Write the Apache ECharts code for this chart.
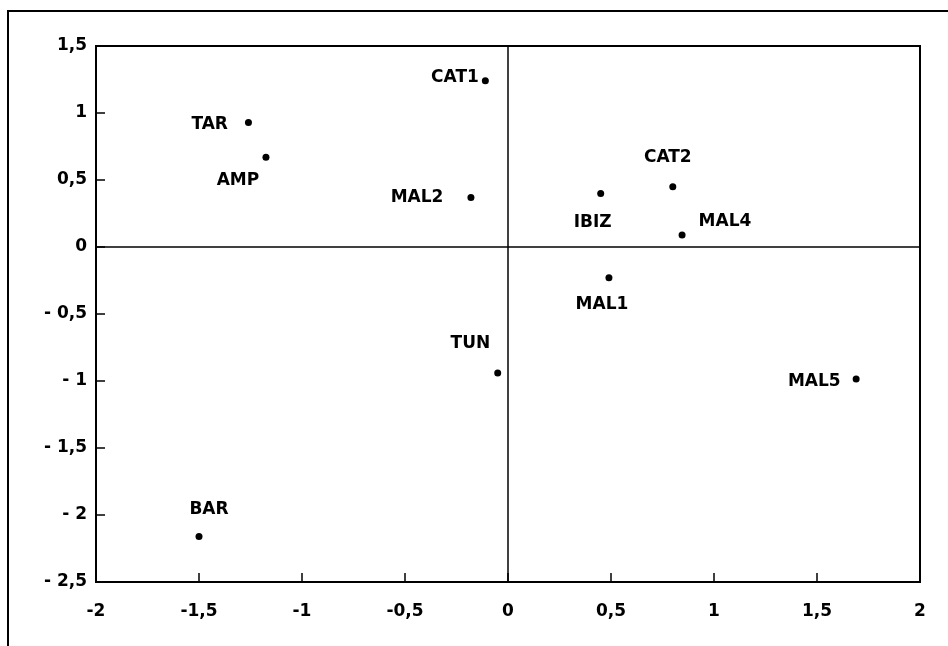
<!DOCTYPE html>
<html>
<head>
<meta charset="utf-8">
<script src="https://cdn.jsdelivr.net/npm/echarts@6/dist/echarts.min.js"></script>
<style>
  html, body { margin: 0; padding: 0; background: #fff; }
  #main { width: 948px; height: 646px; }
</style>
</head>
<body>
<div id="main"></div>
<script>
// sites and their coordinates on the two axes
var names = ['CAT1', 'TAR', 'AMP', 'MAL2', 'IBIZ', 'CAT2', 'MAL4', 'MAL1', 'TUN', 'MAL5', 'BAR'];
var xs = [-0.11, -1.26, -1.175, -0.18, 0.45, 0.80, 0.845, 0.49, -0.05, 1.69, -1.50];
var ys = [1.24, 0.93, 0.67, 0.37, 0.40, 0.45, 0.09, -0.23, -0.94, -0.985, -2.16];

// where each label sits relative to its dot
var labelPlace = {
  CAT1: { position: 'left', offset: [2, -3] },
  TAR: { position: 'left', offset: [-12, 2] },
  AMP: { position: 'inside', offset: [-28, 23] },
  MAL2: { position: 'left', offset: [-19, 0] },
  IBIZ: { position: 'inside', offset: [-8, 29] },
  CAT2: { position: 'inside', offset: [-5, -29] },
  MAL4: { position: 'right', offset: [8, -13] },
  MAL1: { position: 'inside', offset: [-7, 27] },
  TUN: { position: 'left', offset: [1, -29] },
  MAL5: { position: 'left', offset: [-7, 3] },
  BAR: { position: 'inside', offset: [10, -27] }
};

function fmt(v, spaced) {
  var s = String(v).replace('.', ',');
  if (v < 0 && spaced) s = '- ' + s.slice(1);
  return s;
}

var points = names.map(function (n, i) {
  return {
    value: [xs[i], ys[i]],
    name: n,
    label: labelPlace[n]
  };
});

var chart = echarts.init(document.getElementById('main'));
var font = { fontFamily: 'DejaVu Sans', fontWeight: 'bold', fontSize: 17, color: '#000' };

chart.setOption({
  backgroundColor: '#fff',
  animation: false,
  grid: {
    left: 96, right: 28, top: 46, bottom: 64,
    show: true, borderColor: '#000', borderWidth: 2
  },
  graphic: [{
    type: 'polyline',
    shape: { points: [[8, 660], [8, 11], [960, 11]] },
    style: { stroke: '#000', lineWidth: 2, fill: null }
  }],
  xAxis: {
    type: 'value', min: -2, max: 2, interval: 0.5,
    axisLine: { onZero: false, lineStyle: { color: '#000', width: 2 } },
    axisTick: { inside: true, length: 9, lineStyle: { color: '#000', width: 1.5 } },
    axisLabel: Object.assign({ margin: 21, formatter: function (v) { return fmt(v, false); } }, font),
    splitLine: { show: false }
  },
  yAxis: {
    type: 'value', min: -2.5, max: 1.5, interval: 0.5,
    axisLine: { onZero: false, lineStyle: { color: '#000', width: 2 } },
    axisTick: { inside: true, length: 9, lineStyle: { color: '#000', width: 1.5 } },
    axisLabel: Object.assign({ margin: 9, formatter: function (v) { return fmt(v, true); } }, font),
    splitLine: { show: false }
  },
  series: [{
    type: 'scatter',
    symbol: 'circle',
    symbolSize: 7,
    itemStyle: { color: '#000', opacity: 1 },
    label: Object.assign({ show: true, formatter: '{b}' }, font),
    data: points,
    markLine: {
      silent: true,
      symbol: 'none',
      label: { show: false },
      lineStyle: { color: '#000', type: 'solid', width: 1.5, opacity: 1 },
      data: [{ xAxis: 0 }, { yAxis: 0 }]
    }
  }]
});
</script>
</body>
</html>
